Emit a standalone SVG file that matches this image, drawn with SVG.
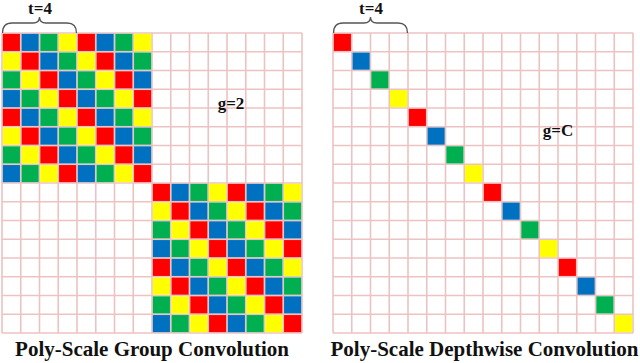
<svg xmlns="http://www.w3.org/2000/svg" width="640" height="363" viewBox="0 0 640 363">
<style>
.grid{fill:none;stroke:#edc2c2;stroke-width:1.6}
.brace{fill:none;stroke:#555;stroke-width:1.3}
.lbl{font-family:"Liberation Serif",serif;font-weight:bold;fill:#111;text-anchor:middle}
.r{fill:#ff0000}.b{fill:#0070c0}.g{fill:#00b050}.y{fill:#ffff00}
</style>
<defs>
<pattern id="tile" patternUnits="userSpaceOnUse" x="2" y="33" width="75" height="75">
<rect x="0.8" y="0.8" width="17.15" height="17.15" class="r"/><rect x="19.55" y="0.8" width="17.15" height="17.15" class="b"/><rect x="38.3" y="0.8" width="17.15" height="17.15" class="g"/><rect x="57.05" y="0.8" width="17.15" height="17.15" class="y"/>
<rect x="0.8" y="19.55" width="17.15" height="17.15" class="y"/><rect x="19.55" y="19.55" width="17.15" height="17.15" class="r"/><rect x="38.3" y="19.55" width="17.15" height="17.15" class="b"/><rect x="57.05" y="19.55" width="17.15" height="17.15" class="g"/>
<rect x="0.8" y="38.3" width="17.15" height="17.15" class="g"/><rect x="19.55" y="38.3" width="17.15" height="17.15" class="y"/><rect x="38.3" y="38.3" width="17.15" height="17.15" class="r"/><rect x="57.05" y="38.3" width="17.15" height="17.15" class="b"/>
<rect x="0.8" y="57.05" width="17.15" height="17.15" class="b"/><rect x="19.55" y="57.05" width="17.15" height="17.15" class="g"/><rect x="38.3" y="57.05" width="17.15" height="17.15" class="y"/><rect x="57.05" y="57.05" width="17.15" height="17.15" class="r"/>
</pattern>
<path id="gridlines" d="M0 0H300M0 18.75H300M0 37.5H300M0 56.25H300M0 75H300M0 93.75H300M0 112.5H300M0 131.25H300M0 150H300M0 168.75H300M0 187.5H300M0 206.25H300M0 225H300M0 243.75H300M0 262.5H300M0 281.25H300M0 300H300M0 0V300M18.75 0V300M37.5 0V300M56.25 0V300M75 0V300M93.75 0V300M112.5 0V300M131.25 0V300M150 0V300M168.75 0V300M187.5 0V300M206.25 0V300M225 0V300M243.75 0V300M262.5 0V300M281.25 0V300M300 0V300"/>
</defs>
<rect width="640" height="363" fill="#fff"/>
<g id="group-conv">
<use href="#gridlines" class="grid" transform="translate(2,33)"/>
<rect x="2" y="33" width="150" height="150" fill="url(#tile)"/>
<rect x="152" y="183" width="150" height="150" fill="url(#tile)"/>
<path class="brace" d="M2.5 33Q2.5 23 12 23H33Q39.5 23 39.5 17Q39.5 23 46 23H67Q76.5 23 76.5 33"/>
<text class="lbl" x="40" y="14" font-size="17">t=4</text>
<text class="lbl" x="231" y="109" font-size="17">g=2</text>
<text class="lbl" x="152" y="356" font-size="21">Poly-Scale Group Convolution</text>
</g>
<g id="depthwise-conv">
<use href="#gridlines" class="grid" transform="translate(333,33)"/>
<g transform="translate(333,33)">
<rect x="0.8" y="0.8" width="17.15" height="17.15" class="r"/>
<rect x="19.55" y="19.55" width="17.15" height="17.15" class="b"/>
<rect x="38.3" y="38.3" width="17.15" height="17.15" class="g"/>
<rect x="57.05" y="57.05" width="17.15" height="17.15" class="y"/>
<rect x="75.8" y="75.8" width="17.15" height="17.15" class="r"/>
<rect x="94.55" y="94.55" width="17.15" height="17.15" class="b"/>
<rect x="113.3" y="113.3" width="17.15" height="17.15" class="g"/>
<rect x="132.05" y="132.05" width="17.15" height="17.15" class="y"/>
<rect x="150.8" y="150.8" width="17.15" height="17.15" class="r"/>
<rect x="169.55" y="169.55" width="17.15" height="17.15" class="b"/>
<rect x="188.3" y="188.3" width="17.15" height="17.15" class="g"/>
<rect x="207.05" y="207.05" width="17.15" height="17.15" class="y"/>
<rect x="225.8" y="225.8" width="17.15" height="17.15" class="r"/>
<rect x="244.55" y="244.55" width="17.15" height="17.15" class="b"/>
<rect x="263.3" y="263.3" width="17.15" height="17.15" class="g"/>
<rect x="282.05" y="282.05" width="17.15" height="17.15" class="y"/>
</g>
<path class="brace" d="M333.5 33Q333.5 23 343 23H364Q370.5 23 370.5 17Q370.5 23 377 23H398Q407.5 23 407.5 33"/>
<text class="lbl" x="371" y="14" font-size="17">t=4</text>
<text class="lbl" x="558" y="136" font-size="17">g=C</text>
<text class="lbl" x="484.5" y="356" font-size="21">Poly-Scale Depthwise Convolution</text>
</g>
</svg>
